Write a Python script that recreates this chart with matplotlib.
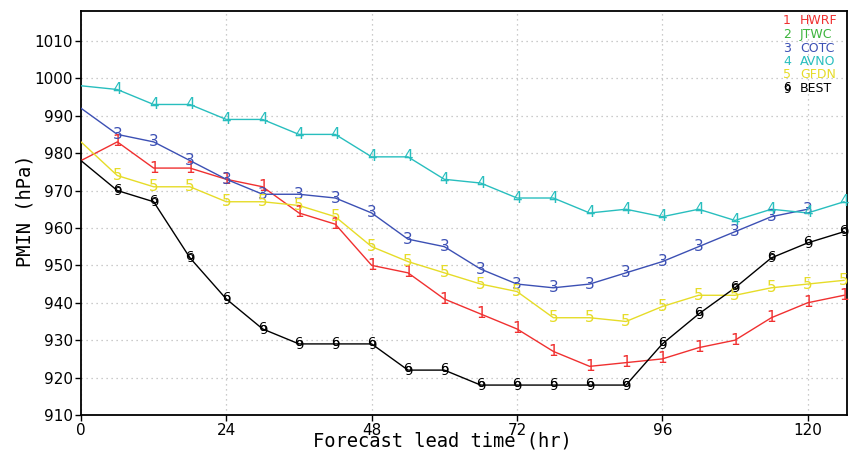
import matplotlib
matplotlib.use("Agg")
import matplotlib.pyplot as plt
from matplotlib.transforms import offset_copy

hours = [0, 6, 12, 18, 24, 30, 36, 42, 48, 54, 60, 66, 72, 78, 84, 90, 96, 102, 108, 114, 120, 126]

hwrf = [978, 983, 976, 976, 973, 971, 964, 961, 950, 948, 941, 937, 933, 927, 923, 924, 925, 928, 930, 936, 940, 942]
cotc = [992, 985, 983, 978, 973, 969, 969, 968, 964, 957, 955, 949, 945, 944, 945, 948, 951, 955, 959, 963, 965]
avno = [998, 997, 993, 993, 989, 989, 985, 985, 979, 979, 973, 972, 968, 968, 964, 965, 963, 965, 962, 965, 964, 967]
gfdn = [983, 974, 971, 971, 967, 967, 966, 963, 955, 951, 948, 945, 943, 936, 936, 935, 939, 942, 942, 944, 945, 946]
best = [978, 970, 967, 952, 941, 933, 929, 929, 929, 922, 922, 918, 918, 918, 918, 918, 929, 937, 944, 952, 956, 959]

names = ["HWRF", "JTWC", "COTC", "AVNO", "GFDN", "BEST"]
marks = ["1", "2", "3", "4", "5", "6"]
colors = ["#f03030", "#3cb43c", "#3c50b4", "#28bebe", "#e6dc28", "#000000"]

xticks = [0, 24, 48, 72, 96, 120]
yticks = list(range(910, 1011, 10))

fig = plt.figure(figsize=(8.55, 4.54), dpi=100)
ax = fig.add_axes([0.0947, 0.0859, 0.896, 0.890])

def storm(axis, x, y, c, fs, trans):
    t6 = offset_copy(trans, fig=fig, x=-0.3, y=0.8, units="points")
    t9 = offset_copy(trans, fig=fig, x=0.3, y=-0.8, units="points")
    axis.text(x, y, "6", color=c, fontsize=fs, ha="center", va="center", transform=t6, zorder=4)
    axis.text(x, y, "9", color=c, fontsize=fs, ha="center", va="center", transform=t9, zorder=4)

series = [(hwrf, 0), (cotc, 2), (avno, 3), (gfdn, 4), (best, 5)]
for vals, idx in series:
    xs = hours[:len(vals)]
    ax.plot(xs, vals, color=colors[idx], lw=1.0, zorder=3)
    for x, y in zip(xs[1:], vals[1:]):
        if idx == 5:
            storm(ax, x, y, colors[idx], 9.5, ax.transData)
        else:
            ax.text(x, y, marks[idx], color=colors[idx], fontsize=11, ha="center", va="center", zorder=4)

ax.set_xlim(0, 126.5)
ax.set_ylim(910, 1018)
ax.set_xticks(xticks)
ax.set_yticks(yticks)
ax.tick_params(labelsize=11, direction="out", length=4, width=1, pad=2)
ax.grid(True, color="#bbbbbb", linestyle=(0, (1, 3)), lw=0.9)
for s in ax.spines.values():
    s.set_linewidth(1.3)

fig.text(25 / 855, 1 - 211 / 454, "PMIN (hPa)", fontsize=13.5, family="DejaVu Sans Mono",
         rotation=90, ha="center", va="center")
fig.text(442 / 855, 1 - 441 / 454, "Forecast lead time (hr)", fontsize=13.5, family="DejaVu Sans Mono",
         ha="center", va="center")

# legend
for i, (nm, mk, c) in enumerate(zip(names, marks, colors)):
    ypix = 21 + i * 13.5
    yf = 1 - ypix / 454
    if i == 5:
        storm(fig, 787 / 855, yf, c, 8.5, fig.transFigure)
    else:
        fig.text(787 / 855, yf, mk, color=c, fontsize=9, ha="center", va="center")
    fig.text(800 / 855, yf, nm, color=c, fontsize=9, ha="left", va="center")

fig.savefig("out.png", dpi=100)
